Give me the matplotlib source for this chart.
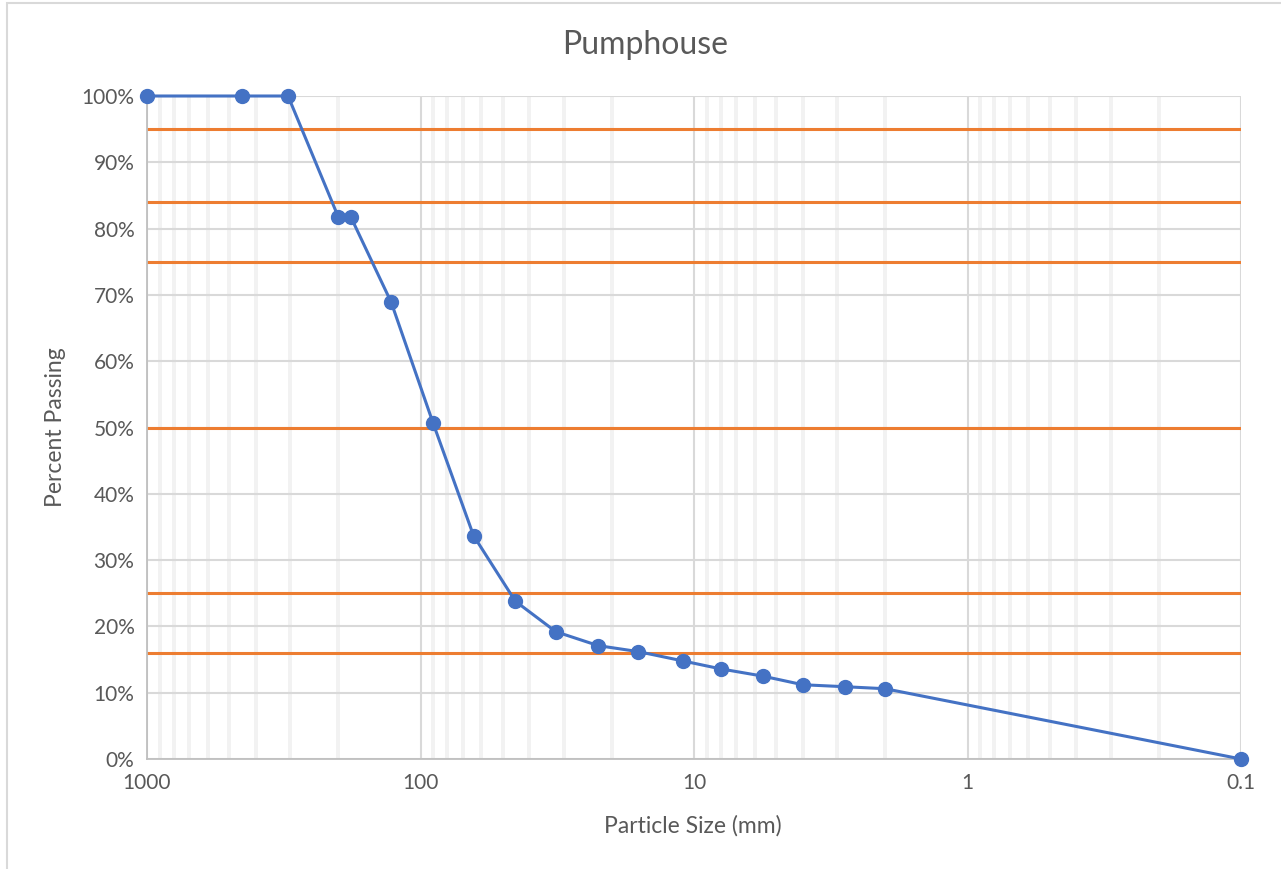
#!/usr/bin/env python3
"""Particle size distribution curve for the Pumphouse sample."""

import matplotlib
matplotlib.use("Agg")
import matplotlib.pyplot as plt
from matplotlib.ticker import FixedLocator, LogLocator, NullFormatter, PercentFormatter
from matplotlib.patches import Rectangle

# =============================================================================
# Data
# =============================================================================

particle_size_mm = [1000, 450, 305, 200, 180, 128, 90, 64, 45, 32, 22.4, 16,
                    11, 8, 5.6, 4, 2.8, 2, 0.1]
percent_passing = [100, 100, 100, 81.8, 81.8, 68.9, 50.7, 33.7, 23.8, 19.2,
                   17.1, 16.2, 14.8, 13.6, 12.5, 11.2, 10.9, 10.6, 0]

# Reference percentiles (D95, D84, D75, D50, D25, D16)
reference_levels = [95, 84, 75, 50, 25, 16]

x_ticks = [1000, 100, 10, 1, 0.1]
x_tick_labels = ["1000", "100", "10", "1", "0.1"]

# =============================================================================
# Style
# =============================================================================

BLUE = "#4472C4"
ORANGE = "#ED7D31"
TEXT = "#595959"
MAJOR_GRID = "#D9D9D9"
MINOR_GRID = "#F2F2F2"

plt.rcParams["font.family"] = ["Lato", "DejaVu Sans"]

W, H = 1281, 869
fig = plt.figure(figsize=(W / 100, H / 100), dpi=100)

# Outer chart frame (cropped on the right and bottom like the screenshot)
fig.patches.append(
    Rectangle((7 / W, -0.01), 1.02, 1 - 3 / H + 0.01, transform=fig.transFigure,
              fill=False, edgecolor="#D9D9D9", linewidth=1.5)
)

ax = fig.add_axes([147 / W, 1 - 759 / H, (1241 - 147) / W, (759 - 96) / H])

ax.set_xscale("log")
ax.set_xlim(1000, 0.1)
ax.set_ylim(0, 100)

# Grid lines
ax.xaxis.set_minor_locator(LogLocator(base=10, subs=range(2, 10)))
ax.xaxis.set_minor_formatter(NullFormatter())
ax.xaxis.set_major_locator(FixedLocator(x_ticks))
ax.set_xticklabels(x_tick_labels)
ax.yaxis.set_major_locator(FixedLocator(range(0, 101, 10)))
ax.yaxis.set_major_formatter(PercentFormatter(decimals=0))

ax.grid(which="minor", axis="x", color=MINOR_GRID, linewidth=2.8, zorder=0)
ax.grid(which="major", axis="x", color=MAJOR_GRID, linewidth=1.5, zorder=0)
ax.grid(which="major", axis="y", color=MAJOR_GRID, linewidth=1.5, zorder=0)
ax.set_axisbelow(True)

for level in reference_levels:
    ax.axhline(level, color=ORANGE, linewidth=2.2, zorder=2)

ax.plot(particle_size_mm, percent_passing, color=BLUE, linewidth=2.2,
        marker="o", markersize=10, zorder=3, clip_on=False)

for side in ["top", "right"]:
    ax.spines[side].set_visible(False)
for side in ["left", "bottom"]:
    ax.spines[side].set_color("#BFBFBF")
    ax.spines[side].set_linewidth(1.3)

ax.tick_params(which="both", length=0, colors=TEXT, labelsize=15)
ax.tick_params(axis="x", pad=10)
ax.tick_params(axis="y", pad=9)

fig.text(645 / W, 1 - 45 / H, "Pumphouse", color=TEXT, fontsize=23,
         ha="center", va="center")
fig.text(693 / W, 1 - 826 / H, "Particle Size (mm)", color=TEXT,
         fontsize=16.5, ha="center", va="center")
fig.text(56 / W, 1 - 427 / H, "Percent Passing", color=TEXT, fontsize=16.5,
         ha="center", va="center", rotation=90)

fig.savefig("out.png", dpi=100)
